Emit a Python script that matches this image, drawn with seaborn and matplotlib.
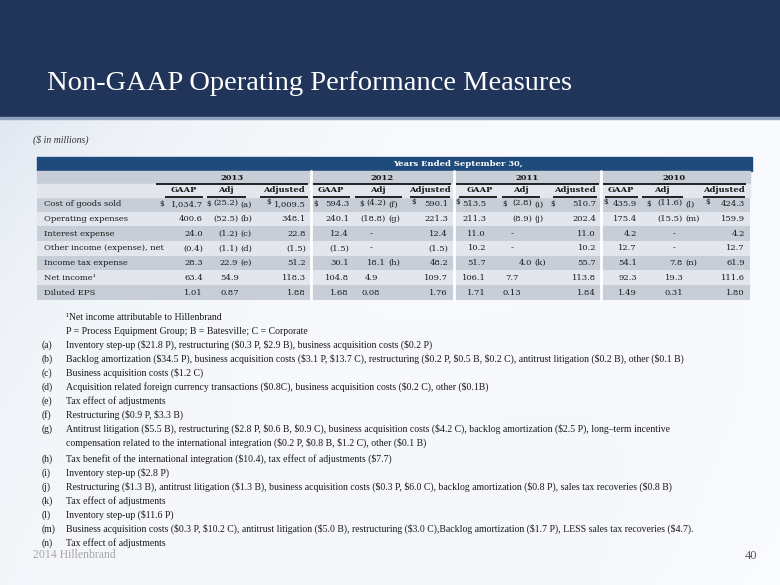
import numpy as np
import matplotlib
matplotlib.use("Agg")
import matplotlib.pyplot as plt
from matplotlib.colors import ListedColormap, LinearSegmentedColormap
from matplotlib.patches import Rectangle
import seaborn as sns

# ---------------- data ----------------
title = "Non-GAAP Operating Performance Measures"
unit_note = "($ in millions)"
band_label = "Years Ended September 30,"
years = ["2013", "2012", "2011", "2010"]
sub_headers = ["GAAP", "Adj", "Adjusted"]
row_labels = ["Cost of goods sold", "Operating expenses", "Interest expense",
              "Other income (expense), net", "Income tax expense", "Net income\u00b9",
              "Diluted EPS"]

gaap_2013 = [1034.7, 400.6, 24.0, -0.4, 28.3, 63.4, 1.01]
adj_2013 = [-25.2, -52.5, -1.2, -1.1, 22.9, 54.9, 0.87]
note_2013 = ["(a)", "(b)", "(c)", "(d)", "(e)", "", ""]
adjusted_2013 = [1009.5, 348.1, 22.8, -1.5, 51.2, 118.3, 1.88]

gaap_2012 = [594.3, 240.1, 12.4, -1.5, 30.1, 104.8, 1.68]
adj_2012 = [-4.2, -18.8, None, None, 18.1, 4.9, 0.08]
note_2012 = ["(f)", "(g)", "", "", "(h)", "", ""]
adjusted_2012 = [590.1, 221.3, 12.4, -1.5, 48.2, 109.7, 1.76]

gaap_2011 = [513.5, 211.3, 11.0, 10.2, 51.7, 106.1, 1.71]
adj_2011 = [-2.8, -8.9, None, None, 4.0, 7.7, 0.13]
note_2011 = ["(i)", "(j)", "", "", "(k)", "", ""]
adjusted_2011 = [510.7, 202.4, 11.0, 10.2, 55.7, 113.8, 1.84]

gaap_2010 = [435.9, 175.4, 4.2, 12.7, 54.1, 92.3, 1.49]
adj_2010 = [-11.6, -15.5, None, None, 7.8, 19.3, 0.31]
note_2010 = ["(l)", "(m)", "", "", "(n)", "", ""]
adjusted_2010 = [424.3, 159.9, 4.2, 12.7, 61.9, 111.6, 1.80]

footnote_intro = ["\u00b9Net income attributable to Hillenbrand",
                  "P = Process Equipment Group; B = Batesville; C = Corporate"]
footnote_keys = ["(a)", "(b)", "(c)", "(d)", "(e)", "(f)", "(g)", "", "(h)", "(i)",
                 "(j)", "(k)", "(l)", "(m)", "(n)"]
footnote_texts = [
    "Inventory step-up ($21.8 P), restructuring ($0.3 P, $2.9 B), business acquisition costs ($0.2 P)",
    "Backlog amortization ($34.5 P), business acquisition costs ($3.1 P, $13.7 C), restructuring ($0.2 P, $0.5 B, $0.2 C), antitrust litigation ($0.2 B), other ($0.1 B)",
    "Business acquisition costs ($1.2 C)",
    "Acquisition related foreign currency transactions ($0.8C), business acquisition costs ($0.2 C), other ($0.1B)",
    "Tax effect of adjustments",
    "Restructuring ($0.9 P, $3.3 B)",
    "Antitrust litigation ($5.5 B), restructuring ($2.8 P, $0.6 B, $0.9 C), business acquisition costs ($4.2 C), backlog amortization ($2.5 P), long\u2013term incentive",
    "compensation related to the international integration ($0.2 P, $0.8 B, $1.2 C), other ($0.1 B)",
    "Tax benefit of the international integration ($10.4), tax effect of adjustments ($7.7)",
    "Inventory step-up ($2.8 P)",
    "Restructuring ($1.3 B), antitrust litigation ($1.3 B), business acquisition costs ($0.3 P, $6.0 C), backlog amortization ($0.8 P), sales tax recoveries ($0.8 B)",
    "Tax effect of adjustments",
    "Inventory step-up ($11.6 P)",
    "Business acquisition costs ($0.3 P, $10.2 C), antitrust litigation ($5.0 B), restructuring ($3.0 C),Backlog amortization ($1.7 P), LESS sales tax recoveries ($4.7).",
    "Tax effect of adjustments",
]
footer_left = "2014 Hillenbrand"
page_number = "40"

groups = [
    (gaap_2013, adj_2013, note_2013, adjusted_2013),
    (gaap_2012, adj_2012, note_2012, adjusted_2012),
    (gaap_2011, adj_2011, note_2011, adjusted_2011),
    (gaap_2010, adj_2010, note_2010, adjusted_2010),
]

# ---------------- layout (pixels) ----------------
W, H = 780, 585
grp_left = [155, 312, 455, 602]
grp_right = [309, 452, 600, 747]
gaap_right = [203, 349, 486, 637]
adj_center = [230, 371, 512, 674]
adj_note_right = [238, 386, 532, 683]
adjd_right = [306, 448, 596, 745]
dollar_x = [(159, 206.5, 266), (313, 359, 411), (455.5, 502, 550), (603, 646, 705)]
dollar_raise = [(0, 0, 2), (0, 0, 2), (2, 0, 0), (2, 0, 2)]
head_center = [(184, 226, 284), (331, 378, 430), (480, 521, 575), (621, 662, 724)]
head_line = [((165, 203), (207, 246), (260, 308)),
             ((313, 350), (355, 402), (410, 450)),
             ((459, 497), (502, 540), (553, 597)),
             ((605, 638), (642, 683), (703, 745))]
tab_x0, tab_x1 = 37, 750
row_top, row_h = 197, 14.7
row_y = [row_top + row_h * (i + 0.5) for i in range(len(row_labels))]
foot_y = [318, 331.5, 345, 359, 373, 387, 401, 415, 429, 443, 459, 473, 487, 501, 515, 529, 543]

sns.set_theme(style="white")
plt.rcParams['font.family'] = ['DejaVu Serif', 'DejaVu Sans']

NAVY = "#21355a"
BAND = "#1f4b7c"
GRAY = "#c8ced8"
LIGHT = "#e3e7ed"
TXT = "#1a1a1a"
TF = "DejaVu Serif"
TS = 6.0
FF = "Liberation Serif"


def fmt(v, dec):
    if v is None:
        return "-"
    s = f"{abs(v):,.{dec}f}"
    return f"({s})" if v < 0 else s


def esc(s):
    return s.replace("$", r"\$")


fig = plt.figure(figsize=(W / 100, H / 100), dpi=100)

# background
ax_bg = fig.add_axes([0, 0, 1, 1], zorder=0)
xx = np.linspace(0, 1, 200)
yy = np.linspace(0, 1, 150)
X, Y = np.meshgrid(xx, yy)
grad = np.clip(0.55 * X + 0.25 * Y + 0.2 * np.sin(3 * X + 2 * Y), 0, 1)
bg_cmap = LinearSegmentedColormap.from_list("bg", ["#d6e1ec", "#eef2f7", "#fbfcfe"])
ax_bg.imshow(grad, cmap=bg_cmap, extent=[0, W, H, 0], aspect="auto")
ax_bg.set_xlim(0, W)
ax_bg.set_ylim(H, 0)
ax_bg.axis("off")

# striped data rows via seaborn heatmap
ax_tab = fig.add_axes([tab_x0 / W, 1 - (row_top + row_h * 7) / H,
                       (tab_x1 - tab_x0) / W, row_h * 7 / H], zorder=1)
stripes = np.array([[(i + 1) % 2] for i in range(len(row_labels))])
sns.heatmap(stripes, cmap=ListedColormap([LIGHT, GRAY]), cbar=False,
            xticklabels=False, yticklabels=False, ax=ax_tab, linewidths=0)
ax_tab.axis("off")

# overlay
ax = fig.add_axes([0, 0, 1, 1], zorder=2)
ax.patch.set_alpha(0)
ax.set_xlim(0, W)
ax.set_ylim(H, 0)
ax.axis("off")

# header band
ax.add_patch(Rectangle((0, 0), W, 117, color=NAVY, zorder=1))
ax.add_patch(Rectangle((0, 117), W, 2, color="#8fa3bd", zorder=1))
ax.text(47, 84, title, color="white", fontsize=20.5, family="Liberation Serif",
        va="center", ha="left", zorder=3)

ax.text(33, 140, esc(unit_note), fontsize=7, family=FF, style="italic",
        color="#333333", va="center")

# table header
ax.add_patch(Rectangle((tab_x0, 157), 715, 14, color=BAND, zorder=1))
ax.text(393, 164, band_label, color="white", fontsize=TS, family=TF,
        weight="bold", va="center", ha="left", zorder=3)
ax.add_patch(Rectangle((tab_x0, 171), tab_x1 - tab_x0, 13, color=GRAY, zorder=1))
ax.add_patch(Rectangle((tab_x0, 184), tab_x1 - tab_x0, 13, color=LIGHT, zorder=1))

for g, yr in enumerate(years):
    ax.text((grp_left[g] + grp_right[g]) / 2, 177.5, yr, fontsize=TS, family=TF,
            weight="bold", ha="center", va="center", color=TXT, zorder=3)
    ax.plot([grp_left[g] + 1, grp_right[g] - 1], [183.6, 183.6], color="#111111",
            lw=1.3, solid_capstyle="butt", zorder=3)
    for k, hd in enumerate(sub_headers):
        ax.text(head_center[g][k], 190.3, hd, fontsize=TS, family=TF, weight="bold",
                ha="center", va="center", color=TXT, zorder=3)
        ax.plot(head_line[g][k], [196.6, 196.6], color="#111111", lw=1.3,
                solid_capstyle="butt", zorder=3)

# separators
for xs in [310.5, 453.5, 601]:
    ax.plot([xs, xs], [171, row_top + row_h * 7], color="white", lw=2.0, zorder=2)

# row labels & values
for i, lab in enumerate(row_labels):
    y = row_y[i]
    ax.text(44, y, lab, fontsize=TS, family=TF, ha="left", va="center", color=TXT, zorder=3)
    for g, (ga, ad, nt, adj) in enumerate(groups):
        dec = 2 if i == len(row_labels) - 1 else 1
        ax.text(gaap_right[g], y, fmt(ga[i], dec), fontsize=TS, family=TF,
                ha="right", va="center", color=TXT, zorder=3)
        ax.text(adjd_right[g], y, fmt(adj[i], dec), fontsize=TS, family=TF,
                ha="right", va="center", color=TXT, zorder=3)
        raise_adj = -1.8 if i == 0 else 0
        if nt[i]:
            ax.text(adj_note_right[g], y + raise_adj, fmt(ad[i], dec), fontsize=TS,
                    family=TF, ha="right", va="center", color=TXT, zorder=3)
            ax.text(adj_note_right[g] + 2.5, y, nt[i], fontsize=TS, family=TF, ha="left",
                    va="center", color=TXT, zorder=3)
        else:
            ax.text(adj_center[g], y, fmt(ad[i], dec), fontsize=TS,
                    family=TF, ha="center", va="center", color=TXT, zorder=3)
        if i == 0:
            for dx, dr in zip(dollar_x[g], dollar_raise[g]):
                ax.text(dx, y - dr, esc("$"), fontsize=TS - 0.5, family=TF,
                        ha="left", va="center", color=TXT, zorder=3)

# footnotes
ax.text(66, foot_y[0], footnote_intro[0], fontsize=7, family=FF, color=TXT,
        va="center", ha="left")
ax.text(66, foot_y[1], footnote_intro[1], fontsize=7, family=FF, color=TXT,
        va="center", ha="left")
for k, (key, txt) in enumerate(zip(footnote_keys, footnote_texts)):
    y = foot_y[k + 2]
    if key:
        ax.text(42, y, key, fontsize=7, family=FF, color=TXT, va="center", ha="left")
    ax.text(66, y, esc(txt), fontsize=7, family=FF, color=TXT, va="center", ha="left")

# footer
ax.text(33, 555, footer_left, fontsize=8.5, family="Liberation Serif",
        color="#a6a6a6", va="center", ha="left")
ax.text(757, 556, page_number, fontsize=9, family="Liberation Serif",
        color="#555555", va="center", ha="right")

fig.savefig("out.png", dpi=100)
